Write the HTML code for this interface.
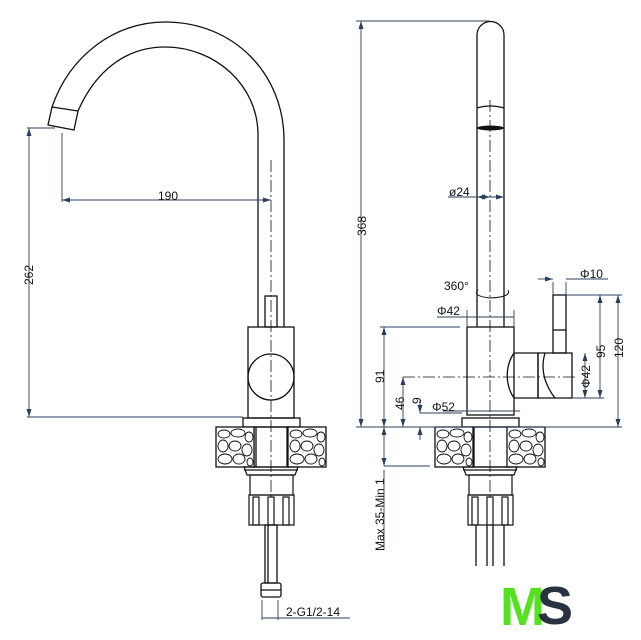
<!DOCTYPE html><html><head><style>body{margin:0;background:#fff}svg{display:block}text{font-family:"Liberation Sans",sans-serif;font-size:12px;fill:#111}</style></head><body>
<svg width="641" height="640" viewBox="0 0 641 640" xmlns="http://www.w3.org/2000/svg">
<defs>
<marker id="a" markerWidth="8" markerHeight="6" refX="8" refY="3" orient="auto-start-reverse" markerUnits="userSpaceOnUse"><path d="M0,0.5L8,3L0,5.5z" fill="#2b3f5c"/></marker>
<g id="stone">
<rect x="0" y="0" width="38" height="40" fill="#fff" stroke="#111" stroke-width="1.3"/>
<g fill="none" stroke="#111" stroke-width="0.9">
<ellipse cx="8" cy="7" rx="6" ry="4"/><ellipse cx="22" cy="6" rx="7" ry="4"/><ellipse cx="33" cy="10" rx="4" ry="5"/>
<ellipse cx="7" cy="19" rx="5" ry="6"/><ellipse cx="19" cy="19" rx="6" ry="5"/><ellipse cx="31" cy="23" rx="5" ry="6"/>
<ellipse cx="9" cy="32" rx="7" ry="5"/><ellipse cx="23" cy="32" rx="6" ry="5"/><ellipse cx="34" cy="35" rx="3" ry="4"/>
</g></g>
<g id="under" fill="none" stroke="#111" stroke-width="1.2">
<path d="M-27,467 L27,467 L24,475 L-24,475 Z"/>
<line x1="-27" y1="470" x2="27" y2="470"/>
<rect x="-21" y="475" width="43" height="20"/>
<rect x="-22" y="495" width="45" height="30"/>
<rect x="-18" y="497" width="6" height="28"/><rect x="-3" y="497" width="6" height="28"/><rect x="12" y="497" width="6" height="28"/>
</g>
</defs>
<g fill="none" stroke="#111" stroke-width="1.3">
<!-- left spout -->
<path d="M52,107 C70,55 115,22 165,22 C235,22 284,75 284,140 L284,327"/>
<path d="M78,111 C95,72 125,47 165,47 C215,47 258,85 258,135 L258,327"/>
<path d="M52,107 L78,111 L74,130 L48,125 Z"/>
<rect x="265" y="296" width="12" height="31"/>
<rect x="248" y="327" width="46" height="91"/>
<circle cx="271" cy="377" r="23"/>
<rect x="243" y="418" width="57" height="9"/>
<rect x="254" y="427" width="35" height="40"/>
<line x1="256" y1="427" x2="256" y2="467"/><line x1="287" y1="427" x2="287" y2="467"/>
<rect x="265" y="525" width="12" height="58"/>
<line x1="268" y1="525" x2="268" y2="583"/>
<rect x="261" y="583" width="20" height="14" rx="2"/>
<line x1="261" y1="590" x2="281" y2="590"/>
</g>
<use href="#stone" x="216" y="427"/><use href="#stone" x="288" y="427"/>
<use href="#under" x="271" y="0"/>
<line x1="271" y1="160" x2="271" y2="500" stroke="#111" stroke-width="0.8" stroke-dasharray="12,3,2,3"/>
<!-- right view -->
<g fill="none" stroke="#111" stroke-width="1.3">
<path d="M477,327 L477,35 A13.5,13.5 0 0 1 504,35 L504,327"/>
<path d="M477,108 Q490,104 504,108"/>
<rect x="467" y="327" width="47" height="88"/>
<path d="M514,353 L538,353 L538,398 L514,398 C505,385 505,366 514,353"/>
<path d="M538,353 L572,353 L572,398 L538,398 Z"/>
<path d="M545,353 C540,370 545,385 555,398"/>
<rect x="553" y="295" width="13" height="58"/>
<line x1="553" y1="330" x2="566" y2="330"/>
<rect x="462" y="418" width="57" height="9"/>
<rect x="472" y="427" width="38" height="40"/>
<line x1="474" y1="427" x2="474" y2="467"/><line x1="508" y1="427" x2="508" y2="467"/>
<line x1="476" y1="525" x2="476" y2="566"/><line x1="487" y1="525" x2="487" y2="566"/><line x1="493" y1="525" x2="493" y2="566"/><line x1="504" y1="525" x2="504" y2="566"/>
<path d="M478,290 Q472,296 490,298 Q512,297 508,290" stroke-width="1"/>
</g>
<ellipse cx="490.5" cy="128" rx="13.5" ry="2.5" fill="#111"/>
<use href="#stone" x="435" y="427"/><use href="#stone" x="507" y="427"/>
<use href="#under" x="490" y="0"/>
<line x1="490" y1="100" x2="490" y2="500" stroke="#111" stroke-width="0.8" stroke-dasharray="12,3,2,3"/>
<line x1="403" y1="377" x2="575" y2="377" stroke="#111" stroke-width="0.8" stroke-dasharray="12,3,2,3"/>
<!-- dimensions -->
<g stroke="#2b3f5c" stroke-width="0.9" fill="none">
<line x1="62" y1="133" x2="62" y2="202"/>
<line x1="62" y1="200" x2="271" y2="200" marker-start="url(#a)" marker-end="url(#a)"/>
<line x1="27" y1="128" x2="55" y2="128"/><line x1="27" y1="417" x2="243" y2="417"/>
<line x1="29" y1="128" x2="29" y2="417" marker-start="url(#a)" marker-end="url(#a)"/>
<line x1="262" y1="600" x2="262" y2="620"/><line x1="278" y1="600" x2="278" y2="620"/>
<line x1="262" y1="618" x2="350" y2="618"/>
<line x1="356" y1="21" x2="490" y2="21"/>
<line x1="361" y1="21" x2="361" y2="427" marker-start="url(#a)" marker-end="url(#a)"/>
<line x1="356" y1="427" x2="622" y2="427"/>
<line x1="448" y1="197" x2="504" y2="197"/>
<line x1="477" y1="197" x2="490" y2="197" marker-start="url(#a)" marker-end="url(#a)"/>
<line x1="490" y1="197" x2="504" y2="197" marker-end="url(#a)"/>
<line x1="437" y1="317" x2="514" y2="317"/>
<line x1="467" y1="310" x2="467" y2="327"/><line x1="514" y1="310" x2="514" y2="327"/>
<line x1="380" y1="327" x2="460" y2="327"/>
<line x1="384" y1="327" x2="384" y2="427" marker-start="url(#a)" marker-end="url(#a)"/>
<line x1="403" y1="377" x2="403" y2="427" marker-start="url(#a)" marker-end="url(#a)"/>
<line x1="420" y1="400" x2="420" y2="413" marker-end="url(#a)"/>
<line x1="420" y1="440" x2="420" y2="427" marker-end="url(#a)"/>
<line x1="420" y1="413" x2="462" y2="413"/>
<line x1="443" y1="411" x2="520" y2="411"/>
<line x1="384" y1="466" x2="430" y2="466"/>
<line x1="384" y1="427" x2="384" y2="466" marker-start="url(#a)" marker-end="url(#a)"/>
<line x1="384" y1="470" x2="384" y2="550"/>
<line x1="538" y1="279" x2="553" y2="279" marker-end="url(#a)"/>
<line x1="566" y1="279" x2="608" y2="279"/>
<line x1="553" y1="282" x2="553" y2="295"/><line x1="566" y1="282" x2="566" y2="295"/>
<line x1="566" y1="295" x2="622" y2="295"/>
<line x1="572" y1="398" x2="604" y2="398"/>
<line x1="600" y1="295" x2="600" y2="398" marker-start="url(#a)" marker-end="url(#a)"/>
<line x1="618" y1="295" x2="618" y2="427" marker-start="url(#a)" marker-end="url(#a)"/>
<line x1="585" y1="353" x2="585" y2="398" marker-start="url(#a)" marker-end="url(#a)"/>
</g>
<text x="158" y="200">190</text>
<text transform="translate(33,285) rotate(-90)">262</text>
<text x="286" y="616">2-G1/2-14</text>
<text transform="translate(366,236) rotate(-90)">368</text>
<text x="449" y="196" font-size="11">ø24</text>
<text x="444" y="290">360°</text>
<text x="437" y="315">Φ42</text>
<text x="580" y="278">Φ10</text>
<text transform="translate(605,358) rotate(-90)">95</text>
<text transform="translate(623,358) rotate(-90)">120</text>
<text transform="translate(590,388) rotate(-90)">Φ42</text>
<text transform="translate(384,383) rotate(-90)">91</text>
<text transform="translate(404,410) rotate(-90)">46</text>
<text transform="translate(421,404) rotate(-90)">9</text>
<text x="432" y="411">Φ52</text>
<text transform="translate(384,551) rotate(-90)">Max 35-Min 1</text>
<text x="500" y="625" style="font-size:54px;font-weight:bold;fill:#55e020;letter-spacing:-6px">M</text>
<text x="537" y="624" style="font-size:54px;font-weight:bold;fill:#2a3140">S</text>
</svg>
</body></html>
